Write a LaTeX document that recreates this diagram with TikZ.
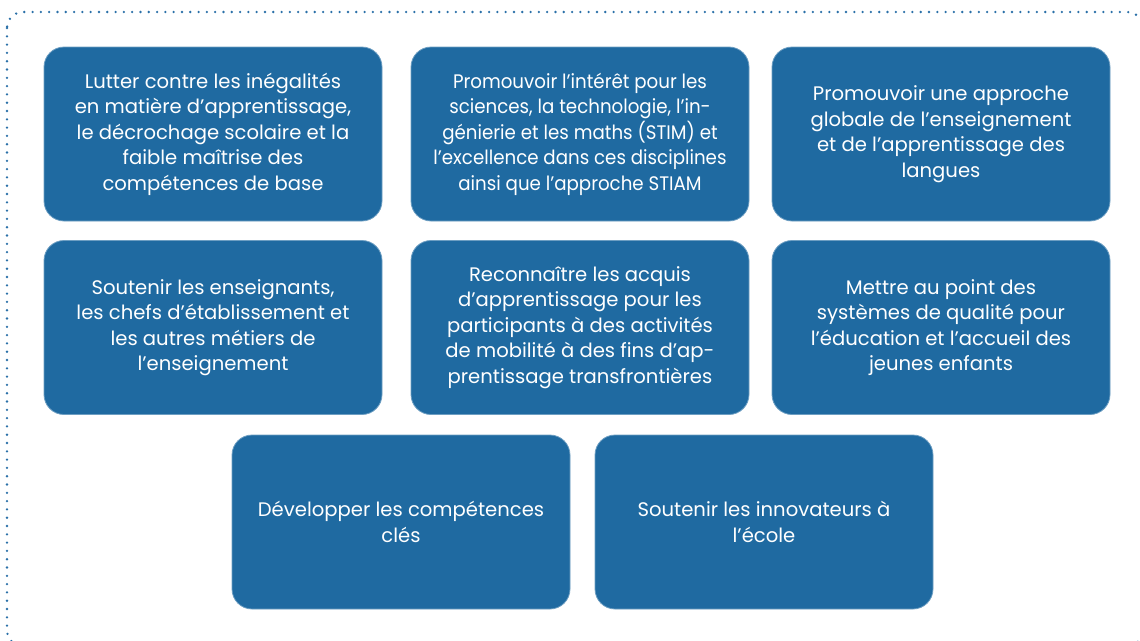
\documentclass[tikz,border=0pt]{standalone}
\usepackage{fontspec}
\setmainfont{Poppins}
\newfontfamily\narrowfont[FakeStretch=0.93]{Poppins}
\definecolor{bleu}{RGB}{31,106,161}
\definecolor{pointille}{RGB}{42,112,168}
\begin{document}
\begin{tikzpicture}[
    x=1pt, y=-1pt,
    bloc/.style={rectangle, fill=bleu, draw=bleu!65!white, line width=.8pt,
        rounded corners=20pt, minimum width=338pt, minimum height=174pt,
        inner sep=0pt, text=white, align=center,
        font=\fontsize{19.6}{25.5}\selectfont}]
    \useasboundingbox (0,0) rectangle (1140,640);
    \clip (0,0) rectangle (1140,640);

    % Cadre en pointillés.
    \draw[pointille, line width=2.6pt, line cap=round,
        dash pattern=on 0pt off 8.3pt, rounded corners=16pt]
        (7,12) rectangle (1143,646);

    % Première rangée.
    \node[bloc] (inegalites) at (213,134) {Lutter contre les inégalités\\
        en matière d’apprentissage,\\le décrochage scolaire et la\\
        faible maîtrise des\\compétences de base};
    \node[bloc, font=\narrowfont\fontsize{19.6}{25.5}\selectfont] (stim) at (580,134)
        {Promouvoir l’intérêt pour les\\sciences, la technologie, l’in-\\
        génierie et les maths (STIM) et\\l’excellence dans ces disciplines\\
        ainsi que l’approche STIAM};
    \node[bloc] (langues) at (941,134) {Promouvoir une approche\\
        globale de l’enseignement\\et de l’apprentissage des\\langues};

    % Deuxième rangée.
    \node[bloc] (enseignants) at (213,327.5) {Soutenir les enseignants,\\
        les chefs d’établissement et\\les autres métiers de\\l’enseignement};
    \node[bloc] (acquis) at (580,327.5) {Reconnaître les acquis\\
        d’apprentissage pour les\\participants à des activités\\
        de mobilité à des fins d’ap-\\prentissage transfrontières};
    \node[bloc] (qualite) at (941,327.5) {Mettre au point des\\
        systèmes de qualité pour\\l’éducation et l’accueil des\\jeunes enfants};

    % Troisième rangée.
    \node[bloc] (competences) at (401,522) {Développer les compétences\\clés};
    \node[bloc] (innovateurs) at (764,522) {Soutenir les innovateurs à\\l’école};
\end{tikzpicture}
\end{document}
